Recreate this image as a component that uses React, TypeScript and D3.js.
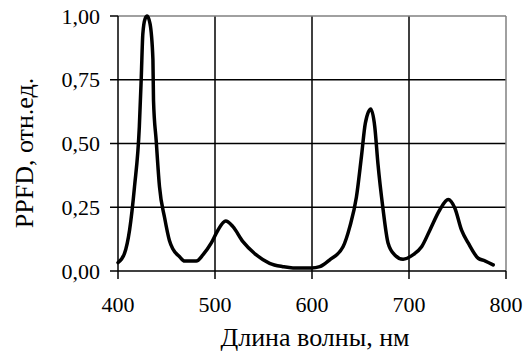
import { scaleLinear, line, curveMonotoneX } from "d3";

const wavelength = [
  400, 406.7, 411.9, 417, 422, 424, 425.6, 428, 430, 433, 436, 436.6, 439.4, 442.8, 448, 453,
  456.6, 463.5, 468.6, 480.7, 487.5, 496.2, 503, 511, 518.5, 528.8, 542.6, 556.3, 570, 580.4,
  599.4, 608, 618, 632, 639, 645.8, 651, 655, 660.6, 664.7, 668, 673, 678.4, 685.3, 693.9, 704,
  713, 721.5, 731.8, 740.4, 747.3, 754.2, 761, 771.3, 778.2, 786.8
];
const ppfd = [
  0.033, 0.069, 0.16, 0.33, 0.566, 0.76, 0.93, 0.99, 1.0, 0.97, 0.83, 0.67, 0.51, 0.33, 0.21, 0.12,
  0.086, 0.056, 0.039, 0.039, 0.063, 0.11, 0.16, 0.196, 0.174, 0.115, 0.063, 0.03, 0.017, 0.012,
  0.012, 0.017, 0.043, 0.095, 0.174, 0.29, 0.45, 0.58, 0.635, 0.566, 0.42, 0.25, 0.11, 0.063, 0.046,
  0.063, 0.095, 0.16, 0.24, 0.28, 0.246, 0.16, 0.11, 0.05, 0.04, 0.024
];
const xTicks = [400, 500, 600, 700, 800];
const yTicks = [0, 0.25, 0.5, 0.75, 1];
const yTickLabels = ["0,00", "0,25", "0,50", "0,75", "1,00"];

const width = 523;
const height = 354;
const margin = { top: 16, right: 17, bottom: 83, left: 118 };
const serif = { fontFamily: "Liberation Serif" };

export default function App() {
  const innerWidth = width - margin.left - margin.right;
  const innerHeight = height - margin.top - margin.bottom;

  const xScale = scaleLinear().domain([400, 800]).range([0, innerWidth]);
  const yScale = scaleLinear().domain([0, 1]).range([innerHeight, 0]);

  const pts = wavelength.map((w, i) => [w, ppfd[i]] as [number, number]);
  const path = line<[number, number]>()
    .x((d) => xScale(d[0]))
    .y((d) => yScale(d[1]))
    .curve(curveMonotoneX)(pts);

  return (
    <svg
      width={width}
      height={height}
      style={{ position: "absolute", left: 0, top: 0, background: "white" }}
    >
      <g transform={`translate(${margin.left},${margin.top})`}>
        {/* grid */}
        {xTicks.slice(1, -1).map((t) => (
          <line key={"gx" + t} x1={xScale(t)} x2={xScale(t)} y1={0} y2={innerHeight} stroke="#000" strokeWidth={1.5} />
        ))}
        {yTicks.slice(1, -1).map((t) => (
          <line key={"gy" + t} x1={0} x2={innerWidth} y1={yScale(t)} y2={yScale(t)} stroke="#000" strokeWidth={1.5} />
        ))}
        {/* frame top/right */}
        <line x1={0} x2={innerWidth} y1={yScale(1)} y2={yScale(1)} stroke="#808080" strokeWidth={1.5} />
        <line x1={xScale(800)} x2={xScale(800)} y1={0} y2={innerHeight} stroke="#808080" strokeWidth={1.5} />

        {/* axes */}
        <line x1={0} x2={0} y1={0} y2={innerHeight} stroke="#000" strokeWidth={1.5} />
        <line x1={0} x2={innerWidth} y1={innerHeight} y2={innerHeight} stroke="#000" strokeWidth={1.5} />
        {yTicks.map((t, i) => (
          <g key={"yt" + t} transform={`translate(0,${yScale(t)})`}>
            <line x1={-8} x2={0} stroke="#000" strokeWidth={1.5} />
            <text x={-18} dy={7.5} textAnchor="end" fontSize={22} fill="#000" style={serif}>
              {yTickLabels[i]}
            </text>
          </g>
        ))}
        {xTicks.map((t) => (
          <g key={"xt" + t} transform={`translate(${xScale(t)},${innerHeight})`}>
            <line y1={0} y2={8} stroke="#000" strokeWidth={1.5} />
            <text y={41} textAnchor="middle" fontSize={22} fill="#000" style={serif}>
              {t}
            </text>
          </g>
        ))}

        <path d={path ?? ""} fill="none" stroke="#000" strokeWidth={3.5} strokeLinejoin="round" strokeLinecap="round" />
      </g>

      <text x={315} y={346} textAnchor="middle" fontSize={26} fill="#000" style={serif}>
        Длина волны, нм
      </text>
      <text transform="translate(33,153) rotate(-90)" textAnchor="middle" fontSize={26} fill="#000" style={serif}>
        PPFD, отн.ед.
      </text>
    </svg>
  );
}
